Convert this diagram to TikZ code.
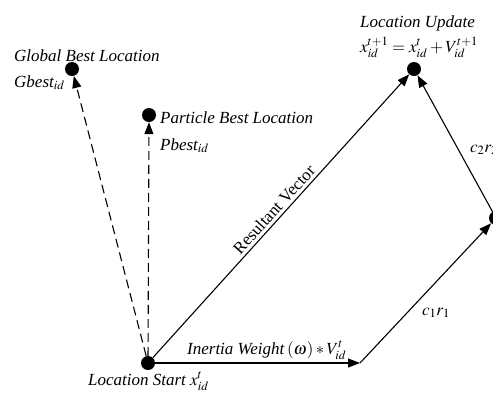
\documentclass[tikz,border=0pt]{standalone}
\usepackage{amsmath}
\usepackage{mathptmx}
\usepackage{fontspec}
\setmainfont{Liberation Serif}
\usetikzlibrary{arrows.meta}

\begin{document}
\begin{tikzpicture}[x=1pt,y=-1pt,
    dot/.style={circle,fill=black,inner sep=0pt,minimum size=14pt},
    vec/.style={line width=1.1pt,-{Triangle[length=12pt,width=9pt]}},
    lbl/.style={anchor=base west,inner sep=0pt,font=\itshape}]
            \useasboundingbox (0,0) rectangle (493,394);
            \clip (0,0) rectangle (493,394);
            \fontsize{17}{20}\selectfont

            % Points
            \node[dot] (start) at (148,363) {};
            \node[dot] (gbest) at (72,69) {};
            \node[dot] (pbest) at (149,115) {};
            \node[dot] (update) at (414,69) {};
            \node[dot] (cog) at (496,218) {};
            \coordinate (inertia) at (360,363);

            % Best locations
            \draw[vec,dash pattern=on 9pt off 5pt] (start) -- (gbest);
            \draw[vec,dash pattern=on 9pt off 5pt] (start) -- (pbest);

            % Velocity parts
            \draw[vec] (start) -- (inertia);
            \draw[vec] (inertia) -- (cog);
            \draw[vec] (cog) -- (update);
            \draw[vec] (start) -- node[sloped,above,inner sep=3pt] (restxt) {Resultant Vector} (update);

            % Labels
            \node[lbl] (gtitle) at (14,61) {Global Best Location};
            \node[lbl] (gname) at (14,87) {Gbest$_{id}$};
            \node[lbl] (ptitle) at (160,123) {Particle Best Location};
            \node[lbl] (pname) at (160,150) {Pbest$_{id}$};
            \node[lbl] (utitle) at (360,27) {Location Update};
            \node[lbl] (ueq) at (360,52) {$x_{id}^{t+1}=x_{id}^{t}+V_{id}^{t+1}$};
            \node[lbl] (inlbl) at (187,354) {Inertia Weight\,$\left(\omega\right)*V_{id}^{t}$};
            \node[lbl] (stlbl) at (88,385) {Location Start $x_{id}^{t}$};
            \node (c1lbl) at (436,313) {$c_1r_1$};
            \node (c2lbl) at (484,150) {$c_2r_2$};
\end{tikzpicture}
\end{document}
